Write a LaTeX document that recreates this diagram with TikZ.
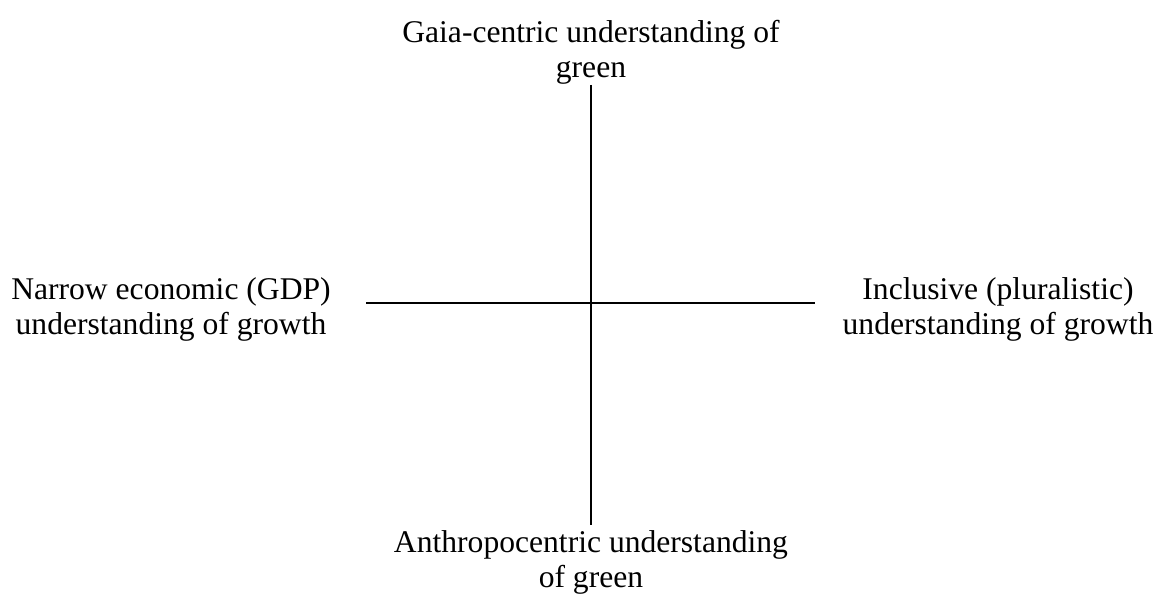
\documentclass[tikz,border=0pt]{standalone}
\usepackage{fontspec}
\setmainfont{Liberation Serif}
\begin{document}
\begin{tikzpicture}[x=1pt,y=1pt,
  lab/.style={inner sep=0pt, align=center, font=\fontsize{31.6}{35}\selectfont},
  axis/.style={line width=1.6pt}]
\useasboundingbox (0,0) rectangle (1171,595);
\coordinate (n) at (591,510);
\coordinate (s) at (591,70);
\coordinate (w) at (366,292);
\coordinate (e) at (815,292);
\draw[axis] (n) -- (s);
\draw[axis] (w) -- (e);
\node[lab, anchor=base] (top) at (591,517) {Gaia-centric understanding of\\green};
\node[lab, anchor=base] (left) at (171,260) {Narrow economic (GDP)\\understanding of growth};
\node[lab, anchor=base] (right) at (998,260) {Inclusive (pluralistic)\\understanding of growth};
\node[lab, anchor=base] (bottom) at (591,8) {Anthropocentric understanding\\of green};
\end{tikzpicture}
\end{document}
